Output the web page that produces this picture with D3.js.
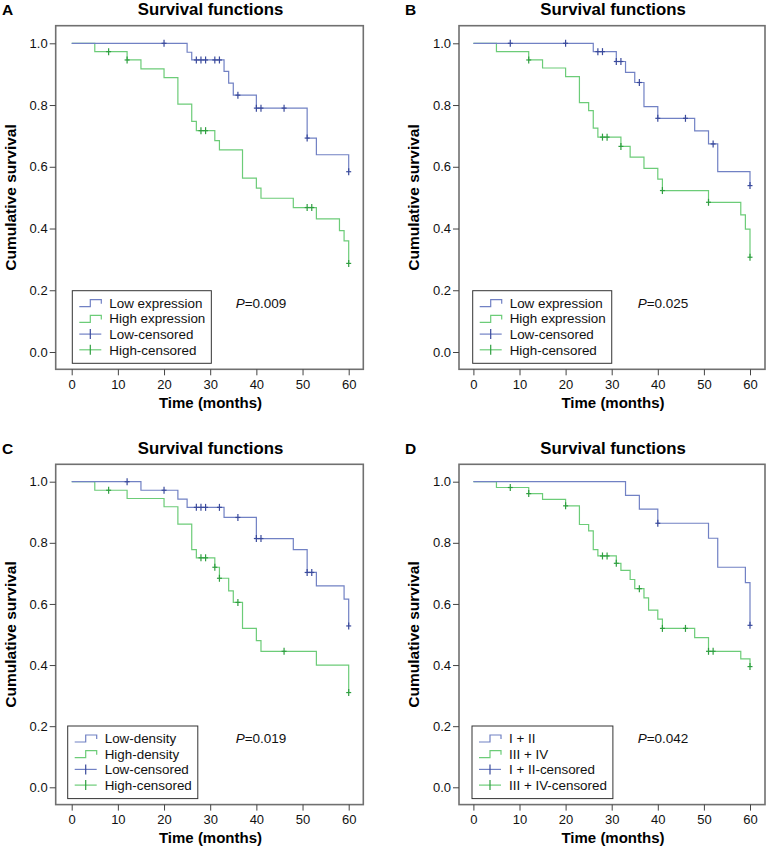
<!DOCTYPE html>
<html><head><meta charset="utf-8">
<script src="https://cdn.jsdelivr.net/npm/d3@7"></script>
<style>body{margin:0;background:#fff;} svg{display:block;font-family:Arial,"Liberation Sans",sans-serif;}</style>
</head><body>
<svg id="c" width="766" height="853"></svg>
<script>
// ---- data ----
const panelLetters = ["A", "B", "C", "D"];
const panelTitle = "Survival functions";
const pValues = ["0.009", "0.025", "0.019", "0.042"];
const legendA = ["Low expression", "High expression", "Low-censored", "High-censored"];
const legendB = ["Low expression", "High expression", "Low-censored", "High-censored"];
const legendC = ["Low-density", "High-density", "Low-censored", "High-censored"];
const legendD = ["I + II", "III + IV", "I + II-censored", "III + IV-censored"];
const xTicks = [0, 10, 20, 30, 40, 50, 60];
const yTicks = [0.0, 0.2, 0.4, 0.6, 0.8, 1.0];

// Panel A
const aLowT = [25, 26, 33, 34, 35, 40, 51, 53, 60];
const aLowS = [0.971, 0.946, 0.909, 0.871, 0.832, 0.79, 0.693, 0.639, 0.584];
const aLowC = [20, 27, 28, 29, 31, 32, 36, 40, 41, 46, 51, 60];
const aHighT = [5, 12, 15, 20, 23, 26, 27, 31, 32, 37, 40, 41, 48, 53, 58, 59, 60];
const aHighS = [0.973, 0.946, 0.917, 0.889, 0.803, 0.747, 0.717, 0.685, 0.655, 0.563, 0.531, 0.498, 0.468, 0.431, 0.393, 0.36, 0.287];
const aHighC = [8, 12, 28, 29, 51, 52, 60];
// Panel B
const bLowT = [26, 31, 33, 35, 37, 40, 48, 51, 53, 60];
const bLowS = [0.973, 0.941, 0.906, 0.873, 0.795, 0.757, 0.716, 0.674, 0.584, 0.539];
const bLowC = [8, 20, 27, 28, 31, 32, 36, 40, 46, 52, 60];
const bHighT = [5, 12, 15, 20, 23, 25, 26, 27, 32, 34, 37, 40, 41, 51, 58, 59, 60];
const bHighS = [0.973, 0.946, 0.92, 0.892, 0.808, 0.782, 0.725, 0.696, 0.666, 0.631, 0.595, 0.56, 0.523, 0.485, 0.444, 0.398, 0.307];
const bHighC = [12, 28, 29, 32, 41, 51, 60];
// Panel C
const cLowT = [15, 23, 25, 33, 40, 48, 51, 53, 59, 60];
const cLowS = [0.972, 0.943, 0.916, 0.883, 0.814, 0.778, 0.703, 0.659, 0.616, 0.528];
const cLowC = [12, 20, 27, 28, 29, 32, 36, 40, 41, 51, 52, 60];
const cHighT = [5, 12, 20, 23, 26, 27, 31, 32, 34, 35, 37, 40, 41, 53, 60];
const cHighS = [0.972, 0.945, 0.918, 0.861, 0.778, 0.751, 0.72, 0.684, 0.643, 0.605, 0.52, 0.48, 0.445, 0.40, 0.31];
const cHighC = [8, 28, 29, 31, 32, 36, 46, 60];
// Panel D
const dLowT = [33, 36, 40, 51, 53, 59, 60];
const dLowS = [0.955, 0.91, 0.864, 0.815, 0.72, 0.67, 0.53];
const dLowC = [40, 60];
const dHighT = [5, 12, 15, 20, 23, 25, 26, 27, 31, 32, 34, 35, 37, 38, 40, 41, 48, 51, 58, 60];
const dHighS = [0.981, 0.961, 0.942, 0.921, 0.86, 0.839, 0.778, 0.757, 0.733, 0.71, 0.68, 0.65, 0.62, 0.58, 0.55, 0.52, 0.49, 0.445, 0.42, 0.395];
const dHighC = [8, 12, 20, 28, 29, 31, 36, 41, 46, 51, 52, 60];

const panels = [
  {letter: panelLetters[0], p: pValues[0], legend: legendA, low: [aLowT, aLowS, aLowC], high: [aHighT, aHighS, aHighC], col: 0, row: 0, legX: 16.6},
  {letter: panelLetters[1], p: pValues[1], legend: legendB, low: [bLowT, bLowS, bLowC], high: [bHighT, bHighS, bHighC], col: 1, row: 0, legX: 13.7},
  {letter: panelLetters[2], p: pValues[2], legend: legendC, low: [cLowT, cLowS, cLowC], high: [cHighT, cHighS, cHighC], col: 0, row: 1, legX: 12},
  {letter: panelLetters[3], p: pValues[3], legend: legendD, low: [dLowT, dLowS, dLowC], high: [dHighT, dHighS, dHighC], col: 1, row: 1, legX: 13}
];

// ---- layout ----
const cols = [
  {left: 55.7, right: 363.3, x0: 71.7, x60: 348.7, letterX: 2, ylabX: 16, pX: 180},
  {left: 459, right: 765, x0: 473.4, x60: 750, letterX: 405, ylabX: 419, pX: 178.7}
];
const rows = [
  {top: 25.7, bottom: 369.3, y1: 43.3, y0: 352, titleY: 15, letterY: 15},
  {top: 464.3, bottom: 804.6, y1: 481.7, y0: 787.3, titleY: 453.8, letterY: 453.5}
];
const BLUE = "#7181c4", BLUE_M = "#3a4a9c", GREEN = "#6ccc78", GREEN_M = "#2f9f40";
const FRAME = "#707070";
const FONT = "Arial, 'Liberation Sans', sans-serif";

const svg = d3.select("#c");

function survAt(T, S, t) {
  let s = 1;
  for (let i = 0; i < T.length; i++) if (T[i] <= t) s = S[i];
  return s;
}

panels.forEach(p => {
  const C = cols[p.col], R = rows[p.row];
  const x = d3.scaleLinear().domain([0, 60]).range([C.x0, C.x60]);
  const y = d3.scaleLinear().domain([0, 1]).range([R.y0, R.y1]);
  const g = svg.append("g");

  // title & letter
  g.append("text").attr("x", (C.left + C.right) / 2 + 1).attr("y", R.titleY)
    .attr("text-anchor", "middle").attr("font-weight", "bold").attr("font-size", 16.8).text(panelTitle);
  g.append("text").attr("x", C.letterX).attr("y", R.letterY)
    .attr("font-weight", "bold").attr("font-size", 15.5).text(p.letter);

  // frame
  g.append("rect").attr("x", C.left).attr("y", R.top).attr("width", C.right - C.left).attr("height", R.bottom - R.top)
    .attr("fill", "none").attr("stroke", FRAME).attr("stroke-width", 1.6);

  // axes
  const yAxis = d3.axisLeft(y).tickValues(yTicks).tickFormat(d3.format(".1f")).tickSize(6).tickPadding(2);
  const ya = g.append("g").attr("transform", `translate(${C.left},0)`).call(yAxis);
  ya.select(".domain").remove();
  ya.selectAll("line").attr("stroke", "#444");
  ya.selectAll("text").attr("font-size", 13).attr("fill", "#111").attr("font-family", FONT);
  const xAxis = d3.axisBottom(x).tickValues(xTicks).tickFormat(d3.format("d")).tickSize(6).tickPadding(4);
  const xa = g.append("g").attr("transform", `translate(0,${R.bottom})`).call(xAxis);
  xa.select(".domain").remove();
  xa.selectAll("line").attr("stroke", "#444");
  xa.selectAll("text").attr("font-size", 13).attr("fill", "#111").attr("font-family", FONT);

  g.append("text").attr("x", (C.left + C.right) / 2 + 1).attr("y", R.bottom + 38.5)
    .attr("text-anchor", "middle").attr("font-weight", "bold").attr("font-size", 15).text("Time (months)");
  g.append("text").attr("transform", `translate(${C.ylabX},${(R.top + R.bottom) / 2}) rotate(-90)`)
    .attr("text-anchor", "middle").attr("font-weight", "bold").attr("font-size", 15.5).text("Cumulative survival");

  // curves
  const line = d3.line().x(d => x(d[0])).y(d => y(d[1])).curve(d3.curveStepAfter);
  [[p.high, GREEN, GREEN_M], [p.low, BLUE, BLUE_M]].forEach(([ser, col, mcol]) => {
    const [T, S, Cs] = ser;
    const pts = [[0, 1]].concat(T.map((t, i) => [t, S[i]]));
    const lastT = Math.max(d3.max(T), d3.max(Cs));
    pts.push([lastT, S[S.length - 1]]);
    g.append("path").attr("d", line(pts)).attr("fill", "none").attr("stroke", col).attr("stroke-width", 1.2);
    Cs.forEach(t => {
      const cx = x(t), cy = y(survAt(T, S, t));
      g.append("line").attr("x1", cx).attr("x2", cx).attr("y1", cy - 3.5).attr("y2", cy + 3.5).attr("stroke", mcol).attr("stroke-width", 1.2);
      g.append("line").attr("x1", cx - 2.5).attr("x2", cx + 2.5).attr("y1", cy).attr("y2", cy).attr("stroke", mcol).attr("stroke-width", 1.2);
    });
  });

  // legend
  const lx = C.left + p.legX, lyB = R.bottom - 6, rowH = 15.7;
  const ly = lyB - 72.6;
  const lg = g.append("g");
  const box = lg.append("rect").attr("x", lx).attr("y", ly).attr("height", lyB - ly)
    .attr("fill", "#fff").attr("stroke", "#333").attr("stroke-width", 1);
  let maxW = 0;
  p.legend.forEach((lab, i) => {
    const cy = ly + 12 + i * rowH;
    const col = i % 2 === 0 ? BLUE : GREEN;
    const mcol = i % 2 === 0 ? BLUE_M : GREEN_M;
    const sx = lx + 7;
    if (i < 2) {
      lg.append("path").attr("d", `M${sx},${cy + 4}H${sx + 11}V${cy - 3}H${sx + 22}V${cy + 1}`)
        .attr("fill", "none").attr("stroke", col).attr("stroke-width", 1.2);
    } else {
      lg.append("line").attr("x1", sx).attr("x2", sx + 22).attr("y1", cy).attr("y2", cy).attr("stroke", col).attr("stroke-width", 1.2);
      lg.append("line").attr("x1", sx + 11).attr("x2", sx + 11).attr("y1", cy - 5).attr("y2", cy + 5).attr("stroke", mcol).attr("stroke-width", 1.2);
    }
    const t = lg.append("text").attr("x", lx + 37).attr("y", cy + 4.8).attr("font-size", 13.4).attr("fill", "#111").text(lab);
    maxW = Math.max(maxW, t.node().getComputedTextLength());
  });
  box.attr("width", 37 + maxW + 6);

  // p value
  const pt = g.append("text").attr("x", C.left + C.pX).attr("y", lyB - 55.4).attr("font-size", 13.5).attr("fill", "#111");
  pt.append("tspan").attr("font-style", "italic").text("P");
  pt.append("tspan").text("=" + p.p);
});
</script>
</body></html>
